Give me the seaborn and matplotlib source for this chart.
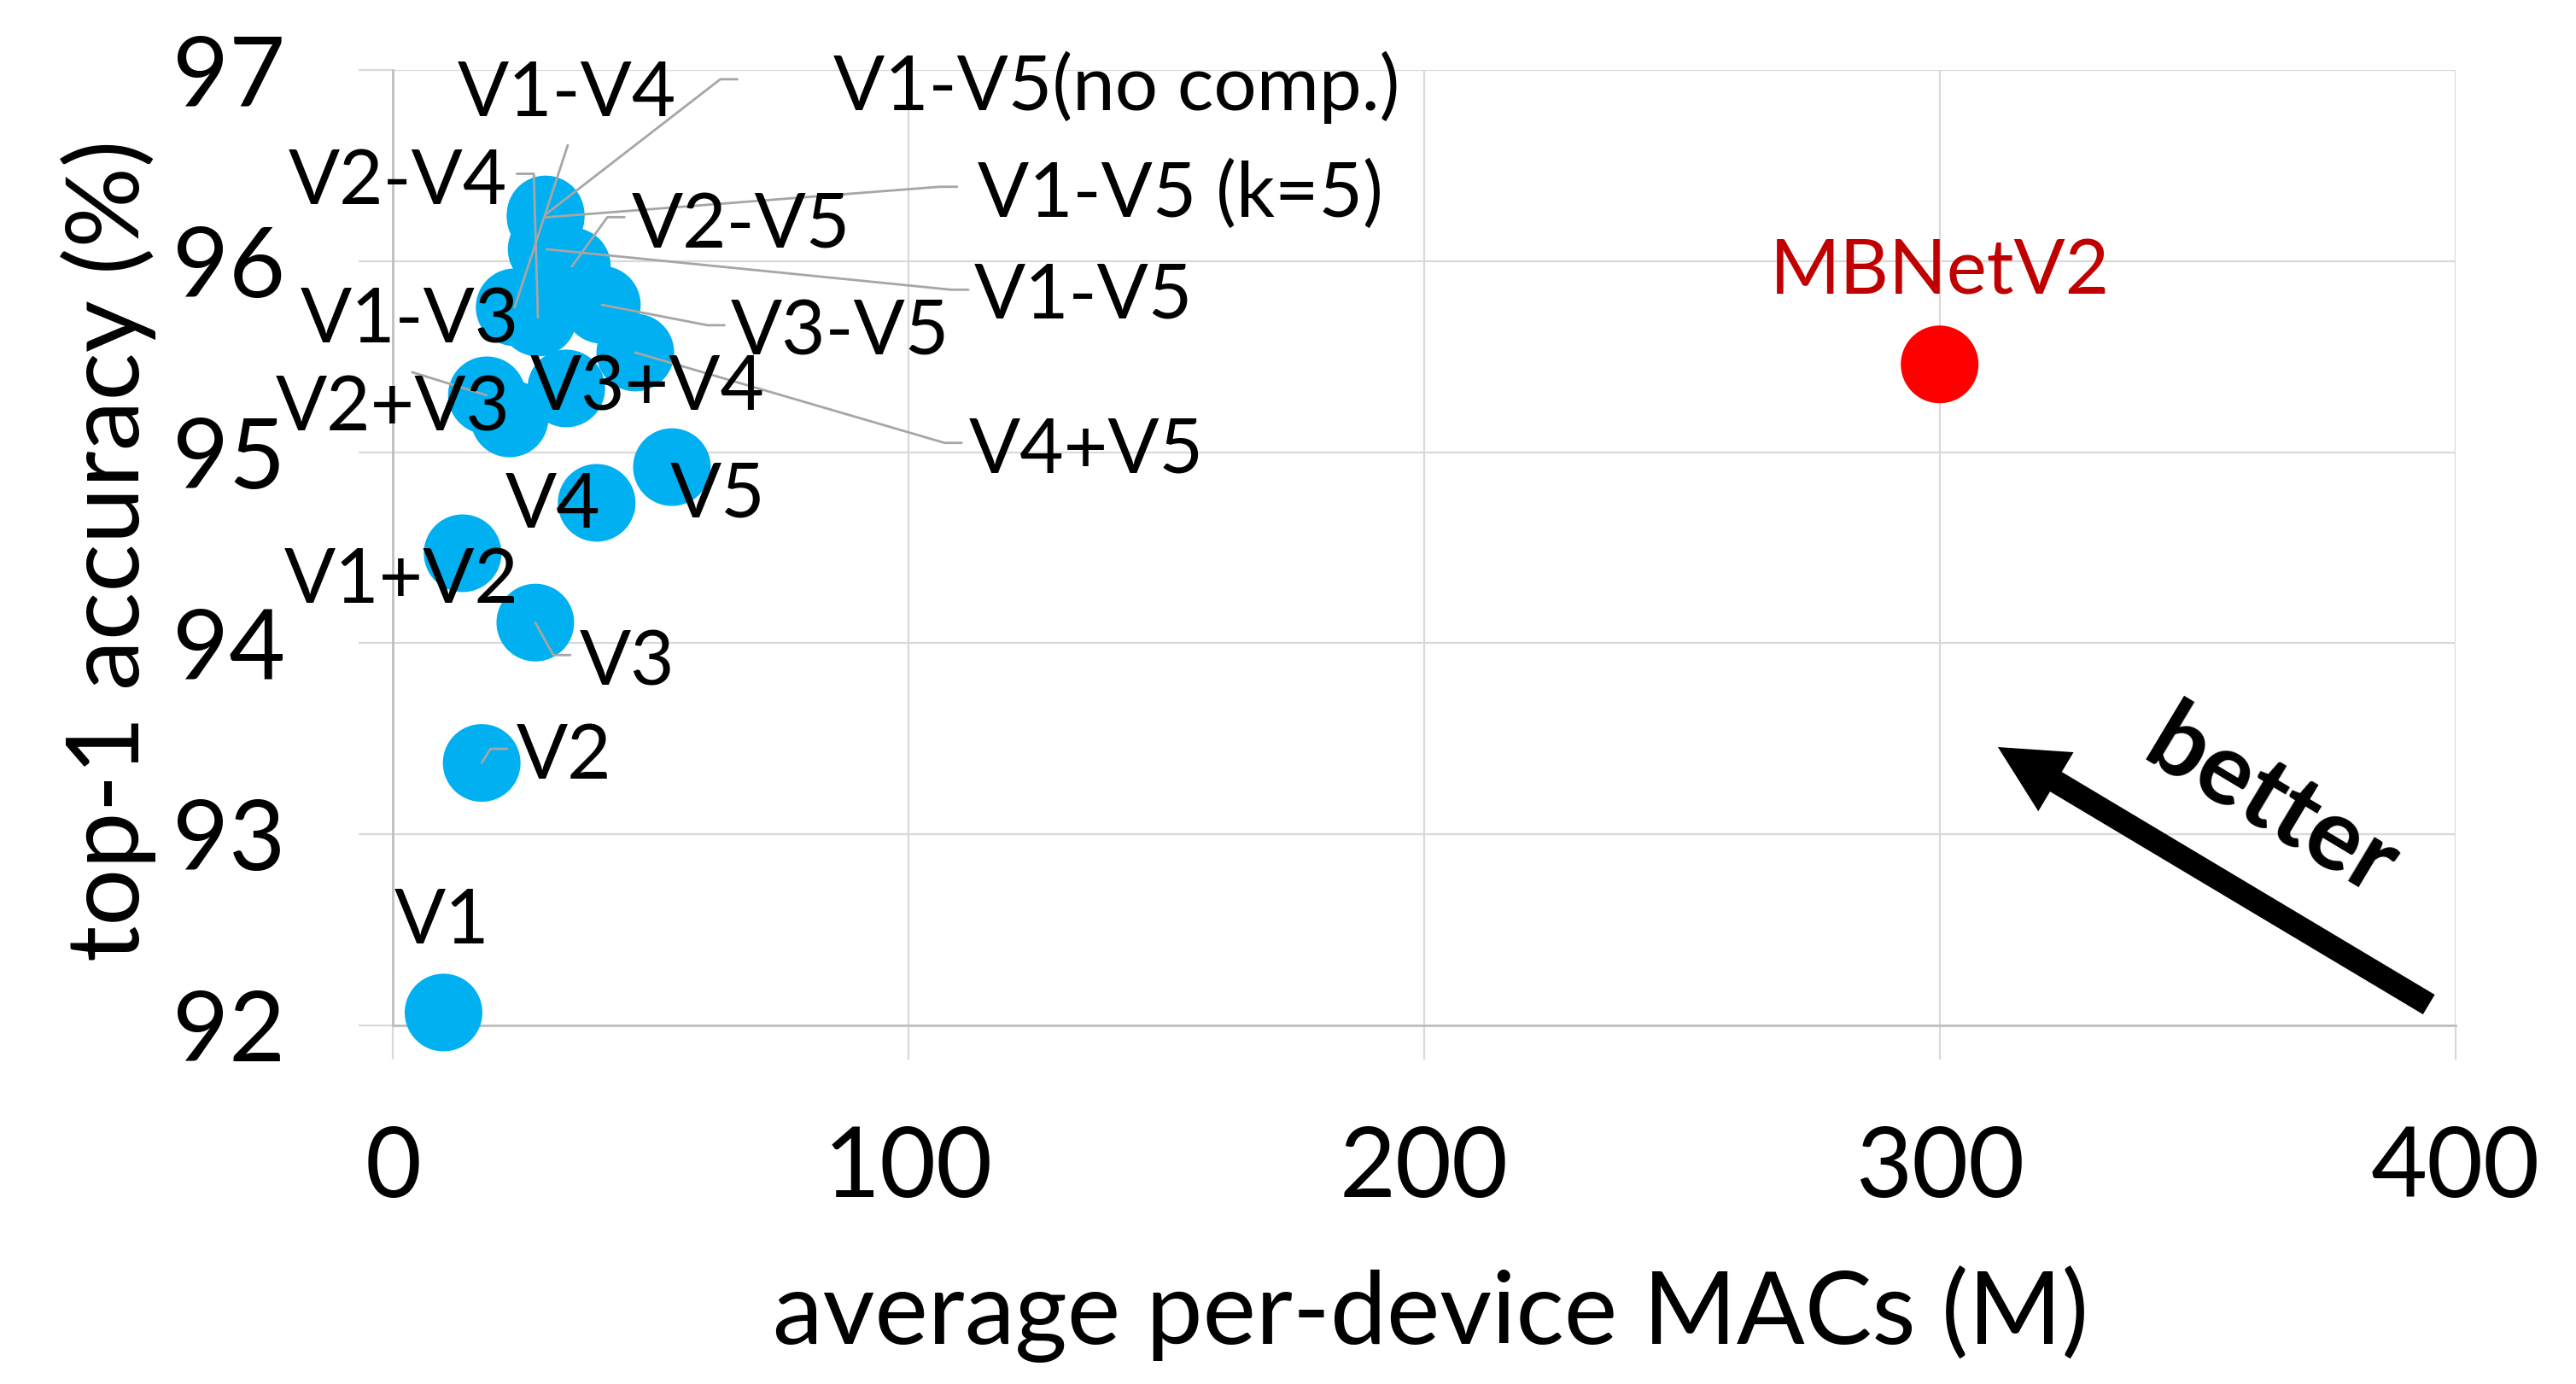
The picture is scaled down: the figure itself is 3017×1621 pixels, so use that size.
import matplotlib
matplotlib.use("Agg")
import matplotlib.pyplot as plt
import seaborn as sns
import pandas as pd

# ---------------- data ----------------
labels = ["V1", "V2", "V3", "V4", "V5",
          "V1+V2", "V2+V3", "V3+V4", "V4+V5",
          "V1-V3", "V2-V4", "V3-V5",
          "V1-V4", "V2-V5",
          "V1-V5", "V1-V5 (k=5)", "V1-V5(no comp.)",
          "MBNetV2"]
macs = [9.8, 17.2, 27.6, 39.5, 54.1,
        13.5, 22.6, 33.6, 47.0,
        18.2, 28.1, 40.5,
        23.6, 34.7,
        29.8, 29.6, 29.6,
        300.0]
acc = [92.066, 93.373, 94.108, 94.735, 94.922,
       94.471, 95.177, 95.334, 95.522,
       95.298, 95.705, 95.772,
       95.759, 95.973,
       96.063, 96.230, 96.245,
       95.460]
group = ["ours"] * 17 + ["baseline"]

x_ticks = [0, 100, 200, 300, 400]
y_ticks = [92, 93, 94, 95, 96, 97]
x_title = "average per-device MACs (M)"
y_title = "top-1 accuracy (%)"

df = pd.DataFrame({"label": labels, "macs": macs, "acc": acc, "group": group})

# ---------------- layout (label placement, data coords) ----------------
# label: (text x center, text baseline y)
label_pos = {
    "V1": (9.5, 92.427), "V2": (33.2, 93.289), "V3": (45.5, 93.782),
    "V4": (31.1, 94.604), "V5": (63.0, 94.663),
    "V1+V2": (1.6, 94.212), "V2+V3": (-0.1, 95.113), "V3+V4": (49.4, 95.222),
    "V4+V5": (134.4, 94.893),
    "V1-V3": (3.3, 95.572), "V2-V4": (0.9, 96.298), "V3-V5": (86.7, 95.512),
    "V1-V4": (33.8, 96.759), "V2-V5": (67.5, 96.071),
    "V1-V5": (134.0, 95.701), "V1-V5 (k=5)": (152.8, 96.234),
    "V1-V5(no comp.)": (140.4, 96.789),
    "MBNetV2": (300.1, 95.829),
}
# leader: (attach x, attach y, stub direction angle or None)
leaders = {
    "V1-V4": (33.9, 96.608, None),
    "V1-V5(no comp.)": (66.8, 96.953, 180),
    "V2-V4": (24.0, 96.458, 0),
    "V1-V5 (k=5)": (109.4, 96.390, 180),
    "V2-V5": (44.9, 96.231, 180),
    "V1-V5": (111.6, 95.851, 180),
    "V3-V5": (64.3, 95.665, 180),
    "V4+V5": (110.3, 95.049, 180),
    "V1-V3": (3.7, 95.419, None),
    "V3": (34.4, 93.938, 180),
    "V2": (22.2, 93.447, 180),
}

BLUE = "#00B0F0"
RED = "#FF0000"
DARKRED = "#C00000"
GRID = "#D9D9D9"
AXIS = "#BFBFBF"
LEADER = "#A6A6A6"

sns.set_theme(style="white")
plt.rcParams["font.family"] = ["Lato", "DejaVu Sans"]

W, H, DPI = 3017, 1621, 100
L, R, T, B = 460.3, 2875.5, 82.3, 1200.7
fig = plt.figure(figsize=(W / DPI, H / DPI), dpi=DPI)
ax = fig.add_axes([L / W, (H - B) / H, (R - L) / W, (B - T) / H])

sns.scatterplot(data=df, x="macs", y="acc", hue="group",
                palette={"ours": BLUE, "baseline": RED},
                s=4290, linewidth=0, legend=False, ax=ax,
                zorder=3, clip_on=False)

ax.set_xlim(0, 400)
ax.set_ylim(92, 97)
ax.set_xticks(x_ticks)
ax.set_yticks(y_ticks)
ax.set_axisbelow(True)
ax.grid(True, color=GRID, lw=1.6)

for side in ["top", "right"]:
    ax.spines[side].set_visible(False)
for side in ["left", "bottom"]:
    ax.spines[side].set_color(AXIS)
    ax.spines[side].set_linewidth(2)
    ax.spines[side].set_zorder(1.5)

ax.tick_params(axis="y", length=28.5, width=1.6, color=GRID, pad=62,
               labelsize=82, labelcolor="black", direction="out", left=True)
ax.tick_params(axis="x", length=28.5, width=1.6, color=GRID, pad=56,
               labelsize=82, labelcolor="black", direction="out", bottom=True)

ax.set_xlabel(x_title, fontsize=85, color="black")
ax.set_ylabel(y_title, fontsize=85, color="black")
ax.xaxis.label.set_va("baseline")
ax.xaxis.set_label_coords(0.503, -0.334)
ax.yaxis.label.set_va("baseline")
ax.yaxis.set_label_coords(-0.1231, 0.497)

# data labels
for lab, x, y in zip(labels, macs, acc):
    tx, ty = label_pos[lab]
    col = DARKRED if lab == "MBNetV2" else "black"
    ax.text(tx, ty, lab, ha="center", va="baseline", fontsize=64,
            color=col, zorder=6, clip_on=False)
    if lab in leaders:
        lx, ly, ang = leaders[lab]
        if ang is None:
            cs = "arc,angleA=0,angleB=0,armA=0,armB=0,rad=0"
        else:
            cs = f"arc,angleA={ang},angleB=0,armA=20,armB=0,rad=0"
        ax.annotate("", xy=(x, y), xytext=(lx, ly),
                    xycoords="data", textcoords="data",
                    arrowprops=dict(arrowstyle="-", color=LEADER, lw=2,
                                    shrinkA=0, shrinkB=0,
                                    connectionstyle=cs),
                    zorder=5, annotation_clip=False)

# "better" arrow
ax.annotate("", xy=(311.3, 93.456), xytext=(394.9, 92.108),
            arrowprops=dict(arrowstyle="simple,head_length=5.7,head_width=5.8,tail_width=1.93",
                            mutation_scale=10, color="black", lw=0,
                            shrinkA=0, shrinkB=0),
            zorder=6, annotation_clip=False)
ax.text(364.3, 93.151, "better", rotation=-31, rotation_mode="anchor",
        ha="center", va="center", fontsize=84, fontweight="bold",
        color="black", zorder=6)

fig.savefig("out.png", dpi=DPI, facecolor="white")
